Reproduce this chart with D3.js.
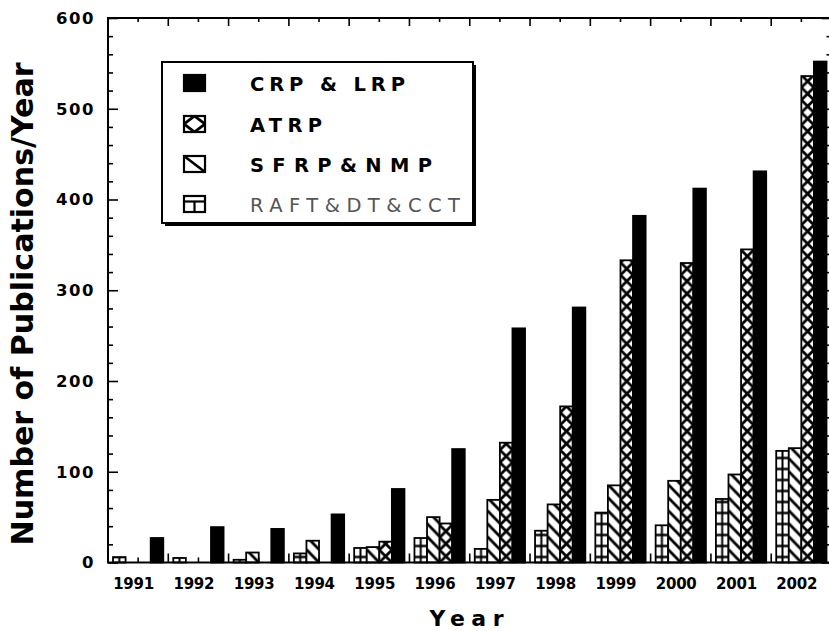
<!DOCTYPE html>
<html>
<head>
<meta charset="utf-8">
<script src="https://cdn.jsdelivr.net/npm/d3@7"></script>
<style>
body { margin: 0; background: #fff; }
text { font-family: "DejaVu Sans", "Liberation Sans", Arial, sans-serif; font-weight: bold; fill: #000; }
</style>
</head>
<body>
<div id="chart"></div>
<script>
const years = ['1991', '1992', '1993', '1994', '1995', '1996', '1997', '1998', '1999', '2000', '2001', '2002']
const keys = ['raft', 'sfrp', 'atrp', 'crp']
const labels = ['CRP & LRP', 'ATRP', 'SFRP&NMP', 'RAFT&DT&CCT']
const legendKeys = ['crp', 'atrp', 'sfrp', 'raft']

const raft = [6, 5, 3, 10, 16, 27, 15, 35, 55, 41, 70, 123]
const sfrp = [0, 0, 11, 24, 17, 50, 69, 64, 85, 90, 97, 126]
const atrp = [0, 0, 0, 0, 23, 43, 132, 172, 333, 330, 345, 536]
const crp = [27, 39, 37, 53, 81, 125, 258, 281, 382, 412, 431, 552]

const yTicks = [0, 100, 200, 300, 400, 500, 600]

const w = 829
const h = 631
const values = { raft: raft, sfrp: sfrp, atrp: atrp, crp: crp }

const svg = d3.select('#chart')
    .append('svg')
    .attr('width', w)
    .attr('height', h)

const x0 = d3.scaleBand()
    .domain(years)
    .range([108, 831.5])
    .paddingInner(0.166)
    .paddingOuter(0.083)

const x1 = d3.scaleBand()
    .domain(keys)
    .range([0, x0.bandwidth()])

const y = d3.scaleLinear()
    .domain([0, 600])
    .range([562.5, 18])

const step = x0.step()
const defs = svg.append('defs')

// hatch content for one pattern tile
function hatch(p, key, bw, ph) {
    p.append('rect').attr('width', bw).attr('height', ph).attr('fill', '#fff')
    if (key === 'sfrp' || key === 'atrp') {
        [-1, 0, 1].forEach(k => {
            p.append('line')
                .attr('x1', 0).attr('y1', k * ph)
                .attr('x2', bw).attr('y2', (k + 1) * ph)
                .attr('stroke', '#000').attr('stroke-width', 2.8)
        })
    }
    if (key === 'atrp') {
        [-1, 0, 1].forEach(k => {
            p.append('line')
                .attr('x1', bw).attr('y1', k * ph)
                .attr('x2', 0).attr('y2', (k + 1) * ph)
                .attr('stroke', '#000').attr('stroke-width', 2.8)
        })
    }
    if (key === 'raft') {
        p.append('line')
            .attr('x1', 0).attr('y1', ph / 2)
            .attr('x2', bw).attr('y2', ph / 2)
            .attr('stroke', '#000').attr('stroke-width', 2.4)
        p.append('line')
            .attr('x1', bw / 2).attr('y1', 0)
            .attr('x2', bw / 2).attr('y2', ph)
            .attr('stroke', '#000').attr('stroke-width', 2)
    }
}

const period = { raft: 11, sfrp: 13, atrp: 12.5 }

const bars = []
keys.forEach(k => {
    years.forEach((yr, i) => {
        bars.push({ key: k, year: yr, i: i, v: values[k][i] })
    })
})

bars.filter(d => d.key !== 'crp').forEach(d => {
    const p = defs.append('pattern')
        .attr('id', 'p-' + d.key + '-' + d.i)
        .attr('patternUnits', 'userSpaceOnUse')
        .attr('x', x0(d.year) + x1(d.key))
        .attr('y', y(0))
        .attr('width', x1.bandwidth())
        .attr('height', period[d.key])
    hatch(p, d.key, x1.bandwidth(), period[d.key])
})

svg.append('g')
    .selectAll('rect')
    .data(bars.filter(d => d.v > 0))
    .enter()
    .append('rect')
    .attr('x', d => x0(d.year) + x1(d.key))
    .attr('y', d => y(d.v))
    .attr('width', x1.bandwidth())
    .attr('height', d => y(0) - y(d.v))
    .attr('fill', d => d.key === 'crp' ? '#000' : 'url(#p-' + d.key + '-' + d.i + ')')
    .attr('stroke', '#000')
    .attr('stroke-width', 1.8)

// frame
svg.append('rect')
    .attr('x', 108)
    .attr('y', y(600))
    .attr('width', 831.5 - 108)
    .attr('height', y(0) - y(600))
    .attr('fill', 'none')
    .attr('stroke', '#000')
    .attr('stroke-width', 2)

const minor = d3.range(0, 601, 20).filter(v => v % 100 !== 0)

// left axis
const left = svg.append('g')
    .attr('transform', 'translate(108,0)')
    .call(d3.axisLeft(y).tickValues(yTicks).tickSize(-10).tickSizeOuter(0).tickPadding(13))
left.select('.domain').remove()
left.selectAll('text')
    .attr('font-size', 16.5)
    .attr('letter-spacing', 1.5)
    .attr('font-family', '"DejaVu Sans", "Liberation Sans", Arial, sans-serif')
    .attr('font-weight', 'bold')

const leftMinor = svg.append('g')
    .attr('transform', 'translate(108,0)')
    .call(d3.axisLeft(y).tickValues(minor).tickSize(-5).tickFormat(''))
leftMinor.select('.domain').remove()

// right axis
const right = svg.append('g')
    .attr('transform', 'translate(831.5,0)')
    .call(d3.axisRight(y).tickValues(yTicks).tickSize(-10).tickFormat(''))
right.select('.domain').remove()
const rightMinor = svg.append('g')
    .attr('transform', 'translate(831.5,0)')
    .call(d3.axisRight(y).tickValues(minor).tickSize(-5).tickFormat(''))
rightMinor.select('.domain').remove()
svg.selectAll('.tick line').attr('stroke-width', 1.6)

// year ticks top and bottom
const centers = years.map(yr => x0(yr) + x0.bandwidth() / 2)
const bounds = years.slice(0, -1).map(yr => x0(yr) + x0.bandwidth() / 2 + step / 2)

svg.append('g').selectAll('line').data(centers).enter().append('line')
    .attr('x1', d => d).attr('x2', d => d)
    .attr('y1', y(0)).attr('y2', y(0) - 5)
    .attr('stroke', '#000').attr('stroke-width', 1.6)
svg.append('g').selectAll('line').data(bounds).enter().append('line')
    .attr('x1', d => d).attr('x2', d => d)
    .attr('y1', y(0)).attr('y2', y(0) - 9)
    .attr('stroke', '#000').attr('stroke-width', 1.6)
svg.append('g').selectAll('line').data(centers).enter().append('line')
    .attr('x1', d => d).attr('x2', d => d)
    .attr('y1', y(600)).attr('y2', y(600) + 4)
    .attr('stroke', '#000').attr('stroke-width', 1.6)
svg.append('g').selectAll('line').data(bounds).enter().append('line')
    .attr('x1', d => d).attr('x2', d => d)
    .attr('y1', y(600)).attr('y2', y(600) + 8)
    .attr('stroke', '#000').attr('stroke-width', 1.6)

// year labels
svg.append('g')
    .selectAll('text')
    .data(years)
    .enter()
    .append('text')
    .attr('x', d => x0(d) + x0.bandwidth() / 2 - 4.5)
    .attr('y', 589)
    .attr('text-anchor', 'middle')
    .attr('font-size', 15)
    .attr('textLength', 41)
    .attr('lengthAdjust', 'spacing')
    .text(d => d)

// axis titles
svg.append('text')
    .attr('x', 466.5)
    .attr('y', 626)
    .attr('text-anchor', 'middle')
    .attr('font-size', 22)
    .attr('textLength', 74)
    .attr('lengthAdjust', 'spacing')
    .text('Year')

svg.append('text')
    .attr('transform', 'translate(33,304) rotate(-90)')
    .attr('text-anchor', 'middle')
    .attr('font-family', '"Liberation Sans Narrow", "Liberation Sans", Arial, sans-serif')
    .attr('font-size', 30)
    .attr('textLength', 483)
    .attr('lengthAdjust', 'spacingAndGlyphs')
    .text('Number of Publications/Year')

// legend
const lg = svg.append('g')
lg.append('rect')
    .attr('x', 165).attr('y', 65).attr('width', 311).attr('height', 161)
    .attr('fill', '#000')
lg.append('rect')
    .attr('x', 162).attr('y', 62).attr('width', 311).attr('height', 161)
    .attr('fill', '#fff').attr('stroke', '#000').attr('stroke-width', 2)

const rowY = [83, 124, 164, 204]
const textW = [155, 72, 182, 210]

legendKeys.forEach((k, i) => {
    const sx = 184
    const sy = rowY[i] - 8
    const sw = 21
    const sh = 16
    if (k === 'atrp') {
        const p = defs.append('pattern')
            .attr('id', 'leg-atrp')
            .attr('patternUnits', 'userSpaceOnUse')
            .attr('x', sx).attr('y', sy - sh / 2)
            .attr('width', sw).attr('height', sh)
        hatch(p, 'atrp', sw, sh)
    }
    lg.append('rect')
        .attr('x', sx).attr('y', sy).attr('width', sw).attr('height', sh)
        .attr('fill', k === 'crp' ? '#000' : k === 'atrp' ? 'url(#leg-atrp)' : '#fff')
        .attr('stroke', '#000').attr('stroke-width', 2.2)
    if (k === 'sfrp') {
        lg.append('line')
            .attr('x1', sx).attr('y1', sy).attr('x2', sx + sw).attr('y2', sy + sh)
            .attr('stroke', '#000').attr('stroke-width', 2.6)
    }
    if (k === 'raft') {
        lg.append('line')
            .attr('x1', sx).attr('y1', sy + 5.5).attr('x2', sx + sw).attr('y2', sy + 5.5)
            .attr('stroke', '#000').attr('stroke-width', 2.2)
        lg.append('line')
            .attr('x1', sx + sw / 2).attr('y1', sy + 5.5).attr('x2', sx + sw / 2).attr('y2', sy + sh)
            .attr('stroke', '#000').attr('stroke-width', 2.2)
    }
    lg.append('text')
        .attr('x', 250)
        .attr('y', rowY[i] + 7.5)
        .attr('font-size', 19.5)
        .attr('textLength', textW[i])
        .attr('lengthAdjust', 'spacing')
        .style('font-weight', k === 'raft' ? 'normal' : 'bold')
        .style('fill', k === 'raft' ? '#555' : '#000')
        .text(labels[i])
})
</script>
</body>
</html>
